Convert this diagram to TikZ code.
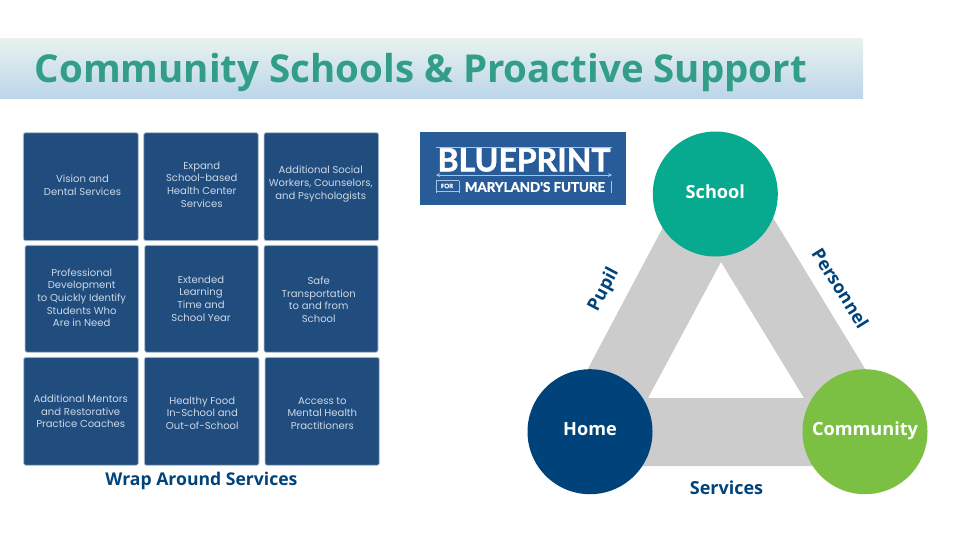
\documentclass[tikz,border=0pt]{standalone}
\usepackage{fontspec}
\setmainfont{Open Sans}
\newfontfamily\cardfont{Poppins}
\newfontfamily\logofont{Lato}[BoldFeatures={FakeBold=1.6}]
\definecolor{bannertop}{HTML}{E8F3EE}
\definecolor{bannerbottom}{HTML}{BCD5EA}
\definecolor{titlegreen}{HTML}{339E87}
\definecolor{cardblue}{HTML}{204D7E}
\definecolor{cardline}{HTML}{BFCAD8}
\definecolor{cardtext}{HTML}{CBD7E5}
\definecolor{labelblue}{HTML}{00437A}
\definecolor{bandgray}{HTML}{CCCCCC}
\definecolor{schoolgreen}{HTML}{07A98F}
\definecolor{homeblue}{HTML}{00437A}
\definecolor{communitygreen}{HTML}{7BC043}
\definecolor{logoblue}{HTML}{285C98}
\definecolor{logoline}{HTML}{A9C3E0}
\tikzset{
  cardbox/.style={draw=cardline, line width=0.6pt, fill=cardblue, rounded corners=1.5pt},
  card/.style={text=cardtext, align=center, inner sep=0pt, font=\cardfont\fontsize{7.55}{9.45}\selectfont},
  hub/.style={circle, minimum size=93.75pt, inner sep=0pt, text=white, text height=10pt, text depth=4pt,
    font=\bfseries\fontsize{13.6}{15}\selectfont},
  tie/.style={text=labelblue, font=\bfseries\fontsize{13.5}{15}\selectfont, inner sep=0pt},
  guide/.style={draw=logoline, line width=0.35pt}
}
\begin{document}
\begin{tikzpicture}[x=0.75pt,y=-0.75pt]
\useasboundingbox (0,0) rectangle (960,540);

\shade[top color=bannertop, bottom color=bannerbottom] (0,38) rectangle (863,98);
\node[anchor=base west, inner sep=0pt, text=titlegreen, font=\bfseries\fontsize{28.85}{32}\selectfont] (title) at (34.5,82) {Community Schools \& Proactive Support};

\draw[cardbox] (23.3,132.7) rectangle (138.3,240.7);
\draw[cardbox] (143.7,132.7) rectangle (258.3,240.7);
\draw[cardbox] (264,132.7) rectangle (378.7,240.7);
\draw[cardbox] (25,245.3) rectangle (138.7,352.3);
\draw[cardbox] (144.7,245.3) rectangle (258.3,352.3);
\draw[cardbox] (264,245.3) rectangle (378,352.3);
\draw[cardbox] (23.7,357.3) rectangle (138.3,465.3);
\draw[cardbox] (144.3,357.3) rectangle (259,465.3);
\draw[cardbox] (265,357.3) rectangle (379.3,465.3);

\node[card] (vision) at (82.5,185) {Vision and\\Dental Services};
\node[card] (expand) at (201.7,184.5) {Expand\\School-based\\Health Center\\Services};
\node[card] (social) at (320.7,184) {Additional Social\\Workers, Counselors,\\and Psychologists};
\node[card] (development) at (81.7,297.7) {Professional\\Development\\to Quickly Identify\\Students Who\\Are in Need};
\node[card] (learning) at (201,298.5) {Extended\\Learning\\Time and\\School Year};
\node[card] (transport) at (318.7,299.5) {Safe\\Transportation\\to and from\\School};
\node[card] (mentors) at (80.7,411.3) {Additional Mentors\\and Restorative\\Practice Coaches};
\node[card] (food) at (202.3,413.3) {Healthy Food\\In-School and\\Out-of-School};
\node[card] (health) at (322.3,413.5) {Access to\\Mental Health\\Practitioners};
\node[tie, font=\bfseries\fontsize{13.2}{15}\selectfont] (wrap) at (201.5,481) {Wrap Around Services};

\fill[logoblue] (420,131.7) rectangle (626,205);
\node[inner sep=0pt, text=white, font=\logofont\bfseries\fontsize{24}{26}\selectfont] (blueprint) at (524,160) {BLUEPRINT};
\node[inner sep=0pt, text=white, font=\logofont\bfseries\fontsize{10}{12}\selectfont] (maryland) at (535,187) {MARYLAND'S FUTURE};
\node[inner sep=0pt, text=white, font=\logofont\bfseries\fontsize{4.5}{6}\selectfont] (for) at (447,186) {FOR};
\draw[guide] (436,147) -- (612,147);
\draw[guide, <->, >=stealth] (436,175) -- (612,175);
\draw[guide] (436,181) -- (436,193);
\draw[guide] (459,181) -- (459,193);
\draw[guide] (611,181) -- (611,193);
\draw[guide] (436,180.5) -- (459,180.5);
\draw[guide] (436,191.5) -- (459,191.5);

\coordinate (bandlefttop) at (680.6,194);
\coordinate (bandrighttop) at (758.6,194);
\coordinate (bandrightmid) at (865.5,369.5);
\coordinate (bandrightlow) at (865,466);
\coordinate (bandleftlow) at (590,466);
\coordinate (bandleftmid) at (587.5,369.5);
\coordinate (innertop) at (721,262);
\coordinate (innerleft) at (648,398);
\coordinate (innerright) at (804,398);
\fill[bandgray, even odd rule] (bandlefttop) -- (bandrighttop) -- (bandrightmid) -- (bandrightlow) -- (bandleftlow) -- (bandleftmid) -- cycle (innertop) -- (innerleft) -- (innerright) -- cycle;

\node[hub, fill=schoolgreen] (school) at (715.3,194) {School};
\node[hub, fill=homeblue] (home) at (590,431.7) {Home};
\node[hub, fill=communitygreen] (community) at (865,431.7) {Community};

\node[tie, rotate=62] (pupil) at (604,290) {Pupil};
\node[tie, rotate=-58] (personnel) at (840.5,288) {Personnel};
\node[tie] (services) at (726.5,487.5) {Services};
\end{tikzpicture}
\end{document}
